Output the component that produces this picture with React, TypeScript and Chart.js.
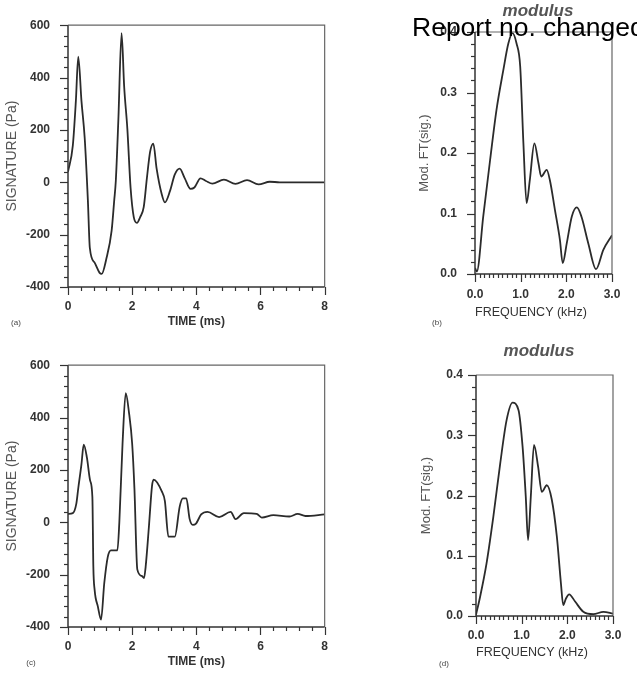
import React, { useEffect, useRef } from "react";
import { Chart, registerables } from "chart.js";

Chart.register(...registerables);

// ---------- DATA ----------
// (a) signature vs time
const timeA = [0, 0.15, 0.245, 0.32, 0.42, 0.52, 0.62, 0.68, 0.83, 0.98, 1.05, 1.19, 1.36, 1.44, 1.49, 1.57, 1.67, 1.75, 1.85, 1.95, 2.05, 2.15, 2.25, 2.36, 2.46, 2.56, 2.66, 2.76, 2.92, 3.02, 3.18, 3.33, 3.48, 3.64, 3.82, 3.94, 4.13, 4.3, 4.5, 4.86, 5.22, 5.58, 5.94, 6.29, 6.6, 8];
const sigA = [40, 140, 310, 480, 310, 170, -70, -250, -307, -345, -350, -295, -185, -70, 5, 240, 570, 367, 204, -20, -133, -155, -133, -95, 17, 117, 148, 54, -45, -77, -33, 30, 52, 15, -25, -20, 15, 5, -5, 10, -6, 8, -8, 2, 0, 0];

// (b) modulus of FT of (a)
const freqB = [0, 0.04, 0.18, 0.33, 0.47, 0.62, 0.73, 0.82, 0.91, 0.99, 1.06, 1.13, 1.2, 1.3, 1.39, 1.45, 1.57, 1.64, 1.75, 1.86, 1.92, 2.01, 2.12, 2.23, 2.33, 2.48, 2.65, 2.81, 3.0];
const modB = [0.01, 0.004, 0.095, 0.188, 0.271, 0.337, 0.381, 0.398, 0.381, 0.343, 0.216, 0.117, 0.155, 0.216, 0.183, 0.161, 0.172, 0.155, 0.106, 0.056, 0.018, 0.051, 0.095, 0.11, 0.095, 0.051, 0.008, 0.04, 0.064];

// (c) signature vs time
const timeC = [0, 0.15, 0.26, 0.32, 0.42, 0.49, 0.59, 0.69, 0.76, 0.79, 0.83, 0.93, 1.03, 1.13, 1.24, 1.34, 1.54, 1.6, 1.7, 1.8, 1.9, 2.0, 2.07, 2.16, 2.3, 2.37, 2.42, 2.52, 2.62, 2.67, 2.92, 3.02, 3.13, 3.33, 3.48, 3.58, 3.69, 3.79, 3.89, 3.99, 4.15, 4.35, 4.71, 5.07, 5.22, 5.48, 5.88, 6.04, 6.4, 6.9, 7.16, 7.4, 8];
const sigC = [32, 35, 71, 130, 222, 297, 247, 159, 96, -170, -258, -321, -372, -233, -132, -107, -107, 0, 300, 493, 420, 300, 130, -180, -205, -213, -170, -20, 140, 163, 119, 81, -55, -55, 59, 91, 91, 13, -10, -5, 30, 40, 20, 40, 12, 35, 32, 18, 27, 22, 32, 24, 30];

// (d) modulus of FT of (c)
const freqD = [0, 0.09, 0.23, 0.38, 0.53, 0.67, 0.8, 0.93, 1.02, 1.09, 1.14, 1.2, 1.27, 1.36, 1.44, 1.55, 1.66, 1.77, 1.86, 1.91, 1.97, 2.04, 2.17, 2.35, 2.57, 2.79, 3.0];
const modD = [0.002, 0.032, 0.087, 0.165, 0.253, 0.325, 0.354, 0.342, 0.281, 0.198, 0.126, 0.198, 0.284, 0.248, 0.206, 0.217, 0.193, 0.132, 0.054, 0.018, 0.029, 0.036, 0.024, 0.007, 0.003, 0.007, 0.004];

const timeTicks = [0, 8, 2]; // min, max, step
const sigTicks = [-400, 600, 200];
const freqTicks = [0, 3, 1];
const modTicks = [0, 0.4, 0.1];

const FONT = "'Liberation Sans', Arial, Helvetica, sans-serif";
Chart.defaults.font.family = FONT;

// frame + outward major/minor ticks drawn through the chart's scales
const frameTicks = {
  id: "frameTicks",
  afterDraw(chart: any, _args: any, opts: any) {
    const { ctx, chartArea: a, scales } = chart;
    const x = scales.x;
    const y = scales.y;
    ctx.save();
    ctx.lineCap = "butt";
    ctx.strokeStyle = "#666";
    ctx.lineWidth = 1.2;
    ctx.beginPath();
    ctx.moveTo(a.left, a.top);
    ctx.lineTo(a.right, a.top);
    ctx.lineTo(a.right, a.bottom);
    ctx.stroke();
    ctx.strokeStyle = "#333";
    ctx.lineWidth = 1.5;
    ctx.beginPath();
    ctx.moveTo(a.left, a.top);
    ctx.lineTo(a.left, a.bottom);
    ctx.lineTo(a.right, a.bottom);
    ctx.stroke();
    ctx.lineWidth = 1.2;
    const isMajor = (v: number, m: number) => Math.abs(v / m - Math.round(v / m)) < 1e-6;
    const nx = Math.round((x.max - x.min) / opts.xMinor);
    for (let i = 0; i <= nx; i++) {
      const v = x.min + i * opts.xMinor;
      const px = Math.round(x.getPixelForValue(v)) + 0.5;
      const len = isMajor(v, opts.xMajor) ? opts.majorLen : opts.minorLen;
      ctx.beginPath();
      ctx.moveTo(px, a.bottom);
      ctx.lineTo(px, a.bottom + len);
      ctx.stroke();
    }
    const ny = Math.round((y.max - y.min) / opts.yMinor);
    for (let i = 0; i <= ny; i++) {
      const v = y.min + i * opts.yMinor;
      const py = Math.round(y.getPixelForValue(v)) + 0.5;
      const len = isMajor(v, opts.yMajor) ? opts.majorLen : opts.minorLen;
      ctx.beginPath();
      ctx.moveTo(a.left, py);
      ctx.lineTo(a.left - len, py);
      ctx.stroke();
    }
    ctx.restore();
  },
};

type PanelProps = {
  left: number; top: number; w: number; h: number;
  xs: number[]; ys: number[];
  xt: number[]; yt: number[];
  xMinor: number; yMinor: number;
  xTitle: string; yTitle: string;
  xTitleFont: any; yTitleFont: any;
  xTitleAlign: "start" | "center";
  xTitlePad: number; yTitlePad: number;
  yAxisW: number; xAxisH: number; padTop: number; padRight: number;
  xLabelPad: number; yLabelPad: number;
  decimals: number;
};

function Panel(p: PanelProps) {
  const ref = useRef<HTMLCanvasElement | null>(null);
  useEffect(() => {
    if (!ref.current) return;
    const data = p.xs.map((x, i) => ({ x, y: p.ys[i] }));
    const tickFont = { size: 12, weight: "bold" as const, family: FONT };
    const chart = new Chart(ref.current, {
      type: "line",
      data: {
        datasets: [
          {
            data,
            borderColor: "#2b2b2b",
            borderWidth: 1.8,
            pointRadius: 0,
            cubicInterpolationMode: "monotone",
            fill: false,
          },
        ],
      },
      options: {
        responsive: false,
        animation: false,
        events: [],
        layout: { padding: { top: p.padTop, right: p.padRight, left: 0, bottom: 0 } },
        plugins: {
          legend: { display: false },
          tooltip: { enabled: false },
          frameTicks: {
            xMinor: p.xMinor, yMinor: p.yMinor,
            xMajor: p.xt[2], yMajor: p.yt[2],
            majorLen: 8, minorLen: 4,
          },
        } as any,
        scales: {
          x: {
            type: "linear",
            min: p.xt[0], max: p.xt[1],
            grid: { display: false, drawTicks: false },
            border: { display: false },
            ticks: {
              stepSize: p.xt[2], autoSkip: false, maxRotation: 0,
              padding: p.xLabelPad, color: "#333", font: tickFont,
              callback: (v: any) => Number(v).toFixed(p.decimals),
            },
            title: {
              display: true, text: p.xTitle, align: p.xTitleAlign,
              color: "#333", font: p.xTitleFont,
              padding: { top: 0, bottom: p.xTitlePad },
            },
            afterFit: (s: any) => { s.height = p.xAxisH; },
          },
          y: {
            type: "linear",
            min: p.yt[0], max: p.yt[1],
            grid: { display: false, drawTicks: false },
            border: { display: false },
            ticks: {
              stepSize: p.yt[2], autoSkip: false,
              padding: p.yLabelPad, color: "#333", font: tickFont,
              callback: (v: any) => Number(v).toFixed(p.decimals === 0 ? 0 : 1),
            },
            title: {
              display: true, text: p.yTitle, color: "#555", font: p.yTitleFont,
              padding: { top: p.yTitlePad, bottom: 0 },
            },
            afterFit: (s: any) => { s.width = p.yAxisW; },
          },
        },
      },
      plugins: [frameTicks as any],
    });
    return () => chart.destroy();
  }, []);
  return (
    <canvas
      ref={ref}
      width={p.w}
      height={p.h}
      style={{ position: "absolute", left: p.left, top: p.top, width: p.w, height: p.h }}
    />
  );
}

const txt = (s: string, x: number, y: number, style: any) => (
  <div
    style={{
      position: "absolute", left: x, top: y, transform: "translate(-50%, -50%)",
      whiteSpace: "nowrap", lineHeight: 1, fontFamily: FONT, ...style,
    }}
  >
    {s}
  </div>
);

export default function App() {
  const timeCommon = {
    xt: timeTicks, yt: sigTicks, xMinor: 0.4, yMinor: 40,
    xTitle: "TIME (ms)", yTitle: "SIGNATURE (Pa)",
    xTitleFont: { size: 12, weight: "bold", family: FONT },
    yTitleFont: { size: 14, weight: "normal", family: FONT },
    xTitleAlign: "center" as const, xTitlePad: 6, yTitlePad: 4,
    yAxisW: 68, xAxisH: 48, padRight: 11, xLabelPad: 12, yLabelPad: 18, decimals: 0,
    w: 340, h: 335,
  };
  const freqCommon = {
    xt: freqTicks, yt: modTicks, xMinor: 0.1, yMinor: 0.02,
    xTitle: "FREQUENCY (kHz)", yTitle: "Mod. FT(sig.)",
    xTitleFont: { size: 12.5, weight: "normal", family: FONT },
    yTitleFont: { size: 13, weight: "normal", family: FONT },
    xTitleAlign: "start" as const, xTitlePad: 14.5,
    decimals: 1, w: 297, h: 335,
  };
  return (
    <div style={{ position: "fixed", left: 0, top: 0, width: 637, height: 675, background: "#fff", overflow: "hidden" }}>
      <Panel {...timeCommon} left={0} top={0} xs={timeA} ys={sigA} padTop={20} />
      <Panel {...freqCommon} left={340} top={0} xs={freqB} ys={modB}
        yAxisW={135} xAxisH={61} padTop={32} padRight={25} xLabelPad={13} yLabelPad={18} yTitlePad={77} />
      <Panel {...timeCommon} left={0} top={340} xs={timeC} ys={sigC} padTop={23} />
      <Panel {...freqCommon} left={340} top={340} xs={freqD} ys={modD}
        yAxisW={136} xAxisH={59} padTop={35} padRight={24} xLabelPad={12} yLabelPad={13} yTitlePad={79} />

      {txt("modulus", 538, 10, { fontSize: 17, fontWeight: "bold", fontStyle: "italic", color: "#555" })}
      {txt("modulus", 539, 350, { fontSize: 17, fontWeight: "bold", fontStyle: "italic", color: "#555" })}
      {txt("(a)", 16, 323, { fontSize: 8, color: "#444" })}
      {txt("(b)", 437, 323, { fontSize: 8, color: "#444" })}
      {txt("(c)", 31, 663, { fontSize: 8, color: "#444" })}
      {txt("(d)", 444, 664, { fontSize: 8, color: "#444" })}
      <div
        style={{
          position: "absolute", left: 412, top: 13.6, fontSize: 26.5, lineHeight: "26.5px",
          fontFamily: FONT, color: "#000", whiteSpace: "nowrap",
        }}
      >
        Report no. changed
      </div>
    </div>
  );
}
